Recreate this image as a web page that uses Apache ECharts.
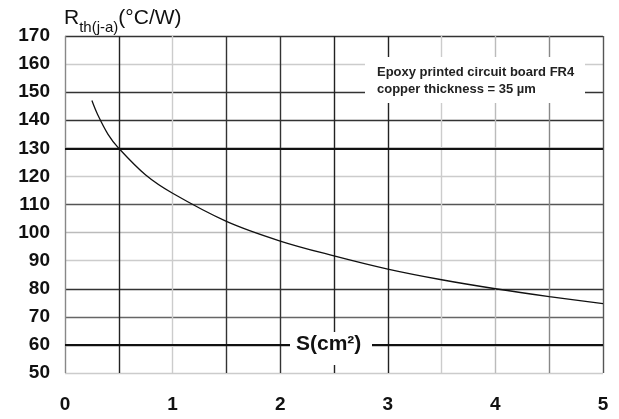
<!DOCTYPE html>
<html>
<head>
<meta charset="utf-8">
<script src="https://cdn.jsdelivr.net/npm/echarts@6/dist/echarts.min.js"></script>
<style>html,body{margin:0;padding:0;background:#fff;}#c{width:619px;height:419px;}</style>
</head>
<body>
<div id="c"></div>
<script>
var surfaceCm2 = [0.25, 0.3, 0.4, 0.5, 0.75, 1, 1.5, 2, 2.5, 3, 3.5, 4, 4.5, 5];
var rthValues = [147, 142.3, 135, 130, 120.5, 114, 104, 97, 91.7, 87, 83.2, 80, 77.2, 74.7];
var xTicks = [0, 1, 2, 3, 4, 5];
var yTicks = [50, 60, 70, 80, 90, 100, 110, 120, 130, 140, 150, 160, 170];
var xGridColors = ['#888', '#222', '#ccc', '#333', '#333', '#222', '#222', '#ccc', '#bbb', '#888', '#555'];
var yGridColors = ['#ccc', '#222', '#666', '#333', '#ccc', '#bbb', '#555', '#ccc', '#111', '#333', '#333', '#ccc', '#333'];
var thickLines = [60, 130];
var noteLines = ['Epoxy printed circuit board FR4', 'copper thickness = 35 µm'];

var chart = echarts.init(document.getElementById('c'), null, {renderer: 'canvas'});
var font = '"Liberation Sans", Arial, Helvetica, sans-serif';
chart.setOption({
  animation: false,
  backgroundColor: '#fff',
  grid: {left: 65, right: 16, top: 36, bottom: 46, containLabel: false},
  xAxis: {
    type: 'value', min: 0, max: 5, interval: 0.5,
    axisLine: {show: false}, axisTick: {show: false},
    axisLabel: {
      margin: 22, fontSize: 19, fontWeight: 'bold', color: '#111', fontFamily: font,
      formatter: function (v) { return xTicks.indexOf(v) >= 0 ? String(v) : ''; }
    },
    splitLine: {show: true, lineStyle: {color: xGridColors, width: 1.4}}
  },
  yAxis: {
    type: 'value', min: 50, max: 170, interval: 10,
    axisLine: {show: false}, axisTick: {show: false},
    axisLabel: {
      margin: 15, fontSize: 19, fontWeight: 'bold', color: '#111', fontFamily: font,
      formatter: function (v) { return yTicks.indexOf(v) >= 0 ? String(v) : ''; }
    },
    splitLine: {show: true, lineStyle: {color: yGridColors, width: 1.4}},
    name: '{r|R}{s|th(j-a)}{r|(°C/W)}',
    nameLocation: 'end', nameGap: 6,
    nameTextStyle: {
      align: 'left', verticalAlign: 'bottom', padding: [0, 0, 0, -1],
      rich: {
        r: {fontSize: 21, color: '#111', fontFamily: font, verticalAlign: 'top', lineHeight: 22},
        s: {fontSize: 15, color: '#111', fontFamily: font, verticalAlign: 'bottom', lineHeight: 22, padding: [0, 0, -5, 0]}
      }
    }
  },
  series: [{
    type: 'line',
    data: surfaceCm2.map(function (x, i) { return [x, rthValues[i]]; }),
    smooth: 0.35, showSymbol: false, symbol: 'none',
    lineStyle: {color: '#111', width: 1.3},
    z: 3,
    markLine: {
      silent: true, symbol: 'none', label: {show: false},
      lineStyle: {color: '#111', width: 2, type: 'solid'},
      data: thickLines.map(function (v) { return {yAxis: v}; }),
      z: 2
    }
  }],
  graphic: [
    {type: 'rect', left: 365, top: 57, shape: {width: 220, height: 46}, style: {fill: '#fff'}, z: 50},
    {type: 'text', left: 377, top: 64, z: 51,
      style: {text: noteLines.join('\n'), font: 'bold 13px ' + font, fill: '#222', lineHeight: 17}},
    {type: 'rect', left: 290, top: 332, shape: {width: 82, height: 33}, style: {fill: '#fff'}, z: 50},
    {type: 'text', left: 296, top: 334, z: 51,
      style: {text: 'S(cm²)', font: 'bold 21px ' + font, fill: '#111'}}
  ]
});
</script>
</body>
</html>
